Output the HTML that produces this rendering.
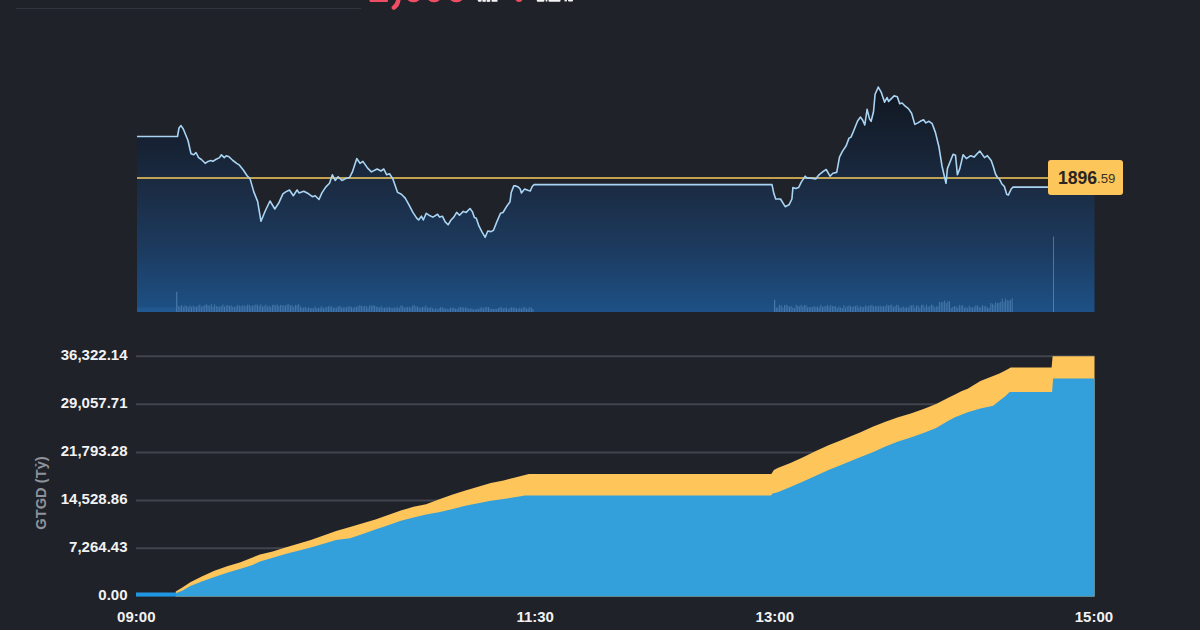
<!DOCTYPE html>
<html><head><meta charset="utf-8"><style>
html,body{margin:0;padding:0;}
body{width:1200px;height:630px;overflow:hidden;background:#20222a;position:relative;font-family:"Liberation Sans",sans-serif;}
svg{position:absolute;left:0;top:0;}
.yl{position:absolute;right:1072.5px;color:#f2f2f2;font-size:15px;line-height:18px;white-space:nowrap;font-weight:bold;}
.xl{position:absolute;top:607.8px;width:60px;text-align:center;color:#f2f2f2;font-size:15px;line-height:18px;font-weight:bold;}
.ytitle{position:absolute;left:40.8px;top:492.8px;transform:translate(-50%,-50%) rotate(-90deg);color:#8e929b;font-size:14.7px;font-weight:bold;line-height:17px;white-space:nowrap;}
.tag{position:absolute;left:1048px;top:160px;width:74.5px;height:34.5px;background:#fcc65a;border-radius:3px;}
.tag span{position:absolute;top:0;line-height:34.5px;color:#2a2520;}
.hdr{position:absolute;font-weight:bold;white-space:nowrap;}
</style></head><body>
<div style="position:absolute;left:16px;top:8px;width:345px;height:1px;background:#32353e"></div>
<svg width="1200" height="630" viewBox="0 0 1200 630">
<defs><linearGradient id="g1" gradientUnits="userSpaceOnUse" x1="0" y1="87" x2="0" y2="312">
<stop offset="0" stop-color="#10161f"/><stop offset="0.458" stop-color="#1b2c44"/><stop offset="0.724" stop-color="#1c3b60"/><stop offset="1" stop-color="#1d5186"/></linearGradient></defs>
<path d="M137,136.5 L177.5,136.5 L179,128 L181,125.6 L183.3,129 L188,140.5 L191,153.8 L193.8,154.8 L196,152.5 L198.6,157.6 L201.4,159.5 L205.2,163.3 L208,161.4 L211,160.5 L212.9,161.4 L215.7,159.5 L219.5,157.6 L221.4,154.8 L224.3,157.6 L226.2,155.7 L229,156.7 L232.9,160.5 L236.7,163.3 L239.5,165.2 L243.3,170 L247.1,175.7 L250,178.6 L253.8,191.9 L257.6,201.4 L261,221.3 L265.2,211 L270,201 L274.8,209 L278.6,203.3 L282.9,193.8 L285.7,191.9 L289.5,190 L293.3,195.7 L297.1,190 L299,192.9 L303.8,191.3 L308.6,193.8 L312.4,196.7 L315.2,195.7 L319,199.5 L321.9,192.9 L325.7,187.1 L329.5,183.3 L332.4,174.8 L335.2,180.5 L338.1,176.7 L341.9,180.5 L345.7,178.6 L349.5,177.6 L352.4,171.9 L356.8,158.6 L360,163.3 L362.9,161.4 L367.6,168.1 L371.4,171.9 L377.1,169 L381,171 L383.8,169 L386.7,174.8 L389.5,173.8 L392.9,179 L397.6,192.4 L401.4,194.3 L405.2,198.1 L409,204.8 L412.9,212.4 L416.7,218.1 L418.6,220 L421.4,216.2 L423.3,220 L426.2,213.3 L429,215.2 L432.9,217.1 L437.6,214.3 L439.5,217.1 L442.4,216.2 L445.2,221.9 L448.1,224.8 L451,220 L453.8,217.1 L456.7,212.4 L459.5,215.2 L463.3,211.4 L466.2,212.4 L470,208.5 L472.5,211.9 L474.4,217.6 L476.3,218.3 L478.9,225.9 L482.1,232.2 L485.2,237.3 L487.8,231 L491,231.6 L493.5,230.3 L496.7,222.1 L500.5,213.2 L503,212.5 L506.8,206.2 L510,201.7 L511.3,192.2 L513.8,185.9 L515.7,185.9 L518.3,187.1 L520.2,189 L521.4,192.9 L524.6,189 L527.8,190.3 L530.3,191 L532.2,186.5 L534.1,184.6 L772,184.6 L773.8,193.3 L775.7,199 L780.5,199 L785.2,206.7 L789,204.8 L791.9,199 L792.9,187.6 L795.7,188.6 L798.6,187.6 L801.4,181.9 L805.2,176.2 L807.1,178.1 L811,178.1 L815.7,179 L818.6,175.2 L823.3,171.4 L826.2,169.5 L830,176.2 L832.9,173.3 L836.7,172.4 L839.5,157.1 L842.4,151.4 L846.2,145.7 L849,138.1 L851,137.1 L853.8,130.5 L857.6,121 L860.5,117.1 L862.4,119.7 L864.8,125 L867.1,109.4 L869.5,118.9 L871.1,121.3 L873.5,111.7 L875.1,94.3 L878.3,87.1 L881.4,92.7 L884.6,102.2 L887,97.5 L888.6,101.4 L894.1,95.9 L897.3,96.7 L899.7,103.8 L902.1,103 L905.2,106.2 L908.4,108.6 L911.6,113.3 L914.8,124.4 L917.9,122.9 L920.3,121.3 L923.5,119.7 L925.9,122.9 L929,121.3 L932.2,123.7 L935.4,132.4 L938.9,146.7 L942,166 L944.5,177 L946,183.3 L947.4,168.6 L953.1,154.3 L955.5,155.2 L957.4,174.8 L959.8,168.6 L963.1,154.8 L966.4,158.6 L970.7,155.7 L974,157.1 L979.8,151 L984.5,157.6 L987.4,155.7 L991.2,160.5 L993.6,167.6 L995.5,174 L997.5,177.5 L999.5,179.2 L1001.9,184 L1004.3,186.3 L1006.7,194.3 L1008.3,195.1 L1011.4,188.7 L1013,187.1 L1048,187.1 L1094.5,187.1 L1094.5,312 L137,312 Z" fill="url(#g1)"/>
<g fill="#ef4d63"><rect x="369.5" y="-2" width="18.5" height="3.9" rx="0.8"/>
<ellipse cx="413.5" cy="-3" rx="7" ry="5.3"/><ellipse cx="434" cy="-3" rx="6.8" ry="5.3"/><ellipse cx="456.3" cy="-3" rx="7" ry="5.3"/>
<ellipse cx="519" cy="-1.5" rx="3.6" ry="3.6"/></g>
<path d="M398.6,-3 Q398.6,4.5 393.8,7.6" stroke="#ef4d63" stroke-width="4.4" stroke-linecap="round" fill="none"/>
<g fill="#f4f4f4"><rect x="477.8" y="-1" width="3.8" height="2.8" rx="1.2"/><rect x="482.4" y="-1" width="3.4" height="2.8"/><rect x="486.6" y="-1" width="3.6" height="2.8"/><rect x="491.6" y="-1" width="5.9" height="2.8" rx="0.6"/>
<rect x="536.8" y="-1" width="7.6" height="2.8" rx="1"/><rect x="545.6" y="-1" width="1.8" height="2.5"/><rect x="548.5" y="-1" width="12" height="2.8" rx="1"/><rect x="564.5" y="-1" width="2.4" height="2.4"/><rect x="568" y="-1" width="5" height="2.6" rx="1"/></g>
<path d="M178.3,312 V306.0 M180.0,312 V306.5 M181.6,312 V305.0 M183.3,312 V306.8 M184.9,312 V305.4 M186.6,312 V305.9 M188.2,312 V306.8 M189.9,312 V305.5 M191.5,312 V306.9 M193.2,312 V305.7 M194.8,312 V306.8 M196.5,312 V306.7 M198.1,312 V305.7 M199.8,312 V304.5 M201.4,312 V306.6 M203.1,312 V306.3 M204.7,312 V305.1 M206.4,312 V304.2 M208.0,312 V305.3 M209.7,312 V305.8 M211.3,312 V304.1 M213.0,312 V306.9 M214.6,312 V304.4 M216.3,312 V306.1 M217.9,312 V306.6 M219.6,312 V306.6 M221.2,312 V306.1 M222.9,312 V304.6 M224.5,312 V306.5 M226.2,312 V305.3 M227.8,312 V305.1 M229.5,312 V305.9 M231.1,312 V305.4 M232.8,312 V306.8 M234.4,312 V306.8 M236.1,312 V306.4 M237.7,312 V305.0 M239.4,312 V305.7 M241.0,312 V306.1 M242.7,312 V305.2 M244.3,312 V305.6 M246.0,312 V306.1 M247.6,312 V304.6 M249.3,312 V304.9 M250.9,312 V306.3 M252.6,312 V305.3 M254.2,312 V305.4 M255.9,312 V304.4 M257.5,312 V304.8 M259.2,312 V306.1 M260.8,312 V304.1 M262.5,312 V306.6 M264.1,312 V305.7 M265.8,312 V304.7 M267.4,312 V306.5 M269.1,312 V305.5 M270.7,312 V306.9 M272.4,312 V305.0 M274.0,312 V304.7 M275.7,312 V305.3 M277.3,312 V304.4 M278.9,312 V306.1 M280.6,312 V304.9 M282.2,312 V305.2 M283.9,312 V305.3 M285.5,312 V305.6 M287.2,312 V304.5 M288.8,312 V304.2 M290.5,312 V305.6 M292.1,312 V305.0 M293.8,312 V306.8 M295.4,312 V304.9 M297.1,312 V305.1 M298.7,312 V304.0 M300.4,312 V306.4 M302.0,312 V307.8 M303.7,312 V307.5 M305.3,312 V306.8 M307.0,312 V308.4 M308.6,312 V307.3 M310.3,312 V308.1 M311.9,312 V308.2 M313.6,312 V308.4 M315.2,312 V306.6 M316.9,312 V308.2 M318.5,312 V307.9 M320.2,312 V307.5 M321.8,312 V306.3 M323.5,312 V308.3 M325.1,312 V307.4 M326.8,312 V307.1 M328.4,312 V306.3 M330.1,312 V306.5 M331.7,312 V306.3 M333.4,312 V307.8 M335.0,312 V307.5 M336.7,312 V307.6 M338.3,312 V306.3 M340.0,312 V306.1 M341.6,312 V307.5 M343.3,312 V307.5 M344.9,312 V307.3 M346.6,312 V307.3 M348.2,312 V306.5 M349.9,312 V306.2 M351.5,312 V307.2 M353.2,312 V308.0 M354.8,312 V306.7 M356.5,312 V306.9 M358.1,312 V306.3 M359.8,312 V305.1 M361.4,312 V305.9 M363.1,312 V306.5 M364.7,312 V306.1 M366.4,312 V306.0 M368.0,312 V307.8 M369.7,312 V305.3 M371.3,312 V305.7 M373.0,312 V305.4 M374.6,312 V305.6 M376.3,312 V306.8 M377.9,312 V306.8 M379.6,312 V307.7 M381.2,312 V306.1 M382.9,312 V307.8 M384.5,312 V307.8 M386.2,312 V307.4 M387.8,312 V307.5 M389.5,312 V307.0 M391.1,312 V307.8 M392.8,312 V308.0 M394.4,312 V307.5 M396.1,312 V307.7 M397.7,312 V306.9 M399.4,312 V307.9 M401.0,312 V305.4 M402.7,312 V306.2 M404.3,312 V307.6 M406.0,312 V307.2 M407.6,312 V307.0 M409.3,312 V306.9 M410.9,312 V307.6 M412.6,312 V305.5 M414.2,312 V305.0 M415.9,312 V306.6 M417.5,312 V306.5 M419.2,312 V307.7 M420.8,312 V307.7 M422.5,312 V307.0 M424.1,312 V307.2 M425.8,312 V305.5 M427.4,312 V307.5 M429.1,312 V307.9 M430.7,312 V307.1 M432.4,312 V308.2 M434.0,312 V309.1 M435.7,312 V308.1 M437.3,312 V309.4 M439.0,312 V308.2 M440.6,312 V307.1 M442.3,312 V307.3 M443.9,312 V307.8 M445.6,312 V308.8 M447.2,312 V308.6 M448.9,312 V309.1 M450.5,312 V307.6 M452.2,312 V308.2 M453.8,312 V307.6 M455.5,312 V308.7 M457.1,312 V308.9 M458.8,312 V307.5 M460.4,312 V307.0 M462.1,312 V307.4 M463.7,312 V307.5 M465.4,312 V307.5 M467.0,312 V307.7 M468.7,312 V308.9 M470.3,312 V308.2 M472.0,312 V308.6 M473.6,312 V309.4 M475.3,312 V309.4 M476.9,312 V308.8 M478.6,312 V308.9 M480.2,312 V307.8 M481.9,312 V307.1 M483.5,312 V308.4 M485.2,312 V307.2 M486.8,312 V307.0 M488.5,312 V307.1 M490.1,312 V308.6 M491.8,312 V308.9 M493.4,312 V308.9 M495.1,312 V309.0 M496.7,312 V309.0 M498.4,312 V307.9 M500.0,312 V307.2 M501.7,312 V307.4 M503.3,312 V308.3 M505.0,312 V307.9 M506.6,312 V307.5 M508.3,312 V309.3 M509.9,312 V307.8 M511.6,312 V307.2 M513.2,312 V307.5 M514.9,312 V307.6 M516.5,312 V308.3 M518.2,312 V309.1 M519.8,312 V307.5 M521.5,312 V308.7 M523.1,312 V307.5 M524.8,312 V307.1 M526.4,312 V308.5 M528.1,312 V308.5 M529.7,312 V307.1 M531.4,312 V307.7 M533.0,312 V309.1 M776.3,312 V307.6 M777.9,312 V307.5 M779.6,312 V304.8 M781.2,312 V305.2 M782.9,312 V307.5 M784.5,312 V305.1 M786.2,312 V304.6 M787.8,312 V305.7 M789.5,312 V306.8 M791.1,312 V306.1 M792.8,312 V307.5 M794.4,312 V308.0 M796.1,312 V304.6 M797.7,312 V305.7 M799.4,312 V306.2 M801.0,312 V304.7 M802.7,312 V306.5 M804.3,312 V304.9 M806.0,312 V305.1 M807.6,312 V307.3 M809.3,312 V307.1 M810.9,312 V307.0 M812.6,312 V307.2 M814.2,312 V305.9 M815.9,312 V307.1 M817.5,312 V306.5 M819.2,312 V307.5 M820.8,312 V304.8 M822.5,312 V306.8 M824.1,312 V306.4 M825.8,312 V306.0 M827.4,312 V304.8 M829.1,312 V306.5 M830.7,312 V304.8 M832.4,312 V306.2 M834.0,312 V306.1 M835.7,312 V306.2 M837.3,312 V307.9 M839.0,312 V306.5 M840.6,312 V307.4 M842.3,312 V308.0 M843.9,312 V305.2 M845.6,312 V307.4 M847.2,312 V306.3 M848.9,312 V305.5 M850.5,312 V306.1 M852.2,312 V306.9 M853.8,312 V306.2 M855.5,312 V306.1 M857.1,312 V305.3 M858.8,312 V307.6 M860.4,312 V306.0 M862.1,312 V307.1 M863.7,312 V307.0 M865.4,312 V305.3 M867.0,312 V306.2 M868.7,312 V306.0 M870.3,312 V305.3 M872.0,312 V304.8 M873.6,312 V306.4 M875.3,312 V305.9 M876.9,312 V306.2 M878.6,312 V306.2 M880.2,312 V305.6 M881.9,312 V306.4 M883.5,312 V306.1 M885.2,312 V306.3 M886.8,312 V304.7 M888.5,312 V305.6 M890.1,312 V304.9 M891.8,312 V304.7 M893.4,312 V307.1 M895.1,312 V306.0 M896.7,312 V304.7 M898.4,312 V305.1 M900.0,312 V307.5 M901.7,312 V307.6 M903.3,312 V306.5 M905.0,312 V307.7 M906.6,312 V307.2 M908.3,312 V307.7 M909.9,312 V305.7 M911.6,312 V305.3 M913.2,312 V304.9 M914.9,312 V307.5 M916.5,312 V305.5 M918.2,312 V305.7 M919.8,312 V307.5 M921.5,312 V304.9 M923.1,312 V304.6 M924.8,312 V307.2 M926.4,312 V304.7 M928.1,312 V306.6 M929.7,312 V306.3 M931.4,312 V304.5 M933.0,312 V305.1 M934.7,312 V307.4 M936.3,312 V306.5 M938.0,312 V306.2 M939.6,312 V301.8 M941.3,312 V302.3 M942.9,312 V301.9 M944.6,312 V300.5 M946.2,312 V302.9 M947.9,312 V301.1 M949.5,312 V301.5 M951.2,312 V307.9 M952.8,312 V307.0 M954.5,312 V306.1 M956.1,312 V306.5 M957.8,312 V307.8 M959.4,312 V305.0 M961.1,312 V305.6 M962.7,312 V305.1 M964.4,312 V307.7 M966.0,312 V307.2 M967.7,312 V307.9 M969.3,312 V305.7 M971.0,312 V307.2 M972.6,312 V307.6 M974.3,312 V306.7 M975.9,312 V305.3 M977.6,312 V305.5 M979.2,312 V307.2 M980.9,312 V307.6 M982.5,312 V305.2 M984.2,312 V306.3 M985.8,312 V305.9 M987.5,312 V307.7 M989.1,312 V307.8 M990.8,312 V302.9 M992.4,312 V303.7 M994.1,312 V304.8 M995.7,312 V302.2 M997.4,312 V303.1 M999.0,312 V302.6 M1000.7,312 V301.7 M1002.3,312 V298.6 M1004.0,312 V301.7 M1005.6,312 V298.5 M1007.3,312 V300.2 M1008.9,312 V300.6 M1010.6,312 V299.8 M1012.2,312 V298.3" stroke="#86b8ee" stroke-width="1" stroke-opacity="0.38" fill="none"/>
<path d="M176.7,312 V291.7 M774.6,312 V299.8" stroke="#86b8ee" stroke-width="1.2" stroke-opacity="0.4"/>
<rect x="137" y="307.5" width="39" height="4.5" fill="#3f7fc8" fill-opacity="0.18"/>
<line x1="1053.5" x2="1053.5" y1="312" y2="236.5" stroke="#86b8ee" stroke-width="1" stroke-opacity="0.45"/>
<line x1="137" x2="1048" y1="178" y2="178" stroke="#f8cc5c" stroke-width="1.3"/>
<path d="M137,136.5 L177.5,136.5 L179,128 L181,125.6 L183.3,129 L188,140.5 L191,153.8 L193.8,154.8 L196,152.5 L198.6,157.6 L201.4,159.5 L205.2,163.3 L208,161.4 L211,160.5 L212.9,161.4 L215.7,159.5 L219.5,157.6 L221.4,154.8 L224.3,157.6 L226.2,155.7 L229,156.7 L232.9,160.5 L236.7,163.3 L239.5,165.2 L243.3,170 L247.1,175.7 L250,178.6 L253.8,191.9 L257.6,201.4 L261,221.3 L265.2,211 L270,201 L274.8,209 L278.6,203.3 L282.9,193.8 L285.7,191.9 L289.5,190 L293.3,195.7 L297.1,190 L299,192.9 L303.8,191.3 L308.6,193.8 L312.4,196.7 L315.2,195.7 L319,199.5 L321.9,192.9 L325.7,187.1 L329.5,183.3 L332.4,174.8 L335.2,180.5 L338.1,176.7 L341.9,180.5 L345.7,178.6 L349.5,177.6 L352.4,171.9 L356.8,158.6 L360,163.3 L362.9,161.4 L367.6,168.1 L371.4,171.9 L377.1,169 L381,171 L383.8,169 L386.7,174.8 L389.5,173.8 L392.9,179 L397.6,192.4 L401.4,194.3 L405.2,198.1 L409,204.8 L412.9,212.4 L416.7,218.1 L418.6,220 L421.4,216.2 L423.3,220 L426.2,213.3 L429,215.2 L432.9,217.1 L437.6,214.3 L439.5,217.1 L442.4,216.2 L445.2,221.9 L448.1,224.8 L451,220 L453.8,217.1 L456.7,212.4 L459.5,215.2 L463.3,211.4 L466.2,212.4 L470,208.5 L472.5,211.9 L474.4,217.6 L476.3,218.3 L478.9,225.9 L482.1,232.2 L485.2,237.3 L487.8,231 L491,231.6 L493.5,230.3 L496.7,222.1 L500.5,213.2 L503,212.5 L506.8,206.2 L510,201.7 L511.3,192.2 L513.8,185.9 L515.7,185.9 L518.3,187.1 L520.2,189 L521.4,192.9 L524.6,189 L527.8,190.3 L530.3,191 L532.2,186.5 L534.1,184.6 L772,184.6 L773.8,193.3 L775.7,199 L780.5,199 L785.2,206.7 L789,204.8 L791.9,199 L792.9,187.6 L795.7,188.6 L798.6,187.6 L801.4,181.9 L805.2,176.2 L807.1,178.1 L811,178.1 L815.7,179 L818.6,175.2 L823.3,171.4 L826.2,169.5 L830,176.2 L832.9,173.3 L836.7,172.4 L839.5,157.1 L842.4,151.4 L846.2,145.7 L849,138.1 L851,137.1 L853.8,130.5 L857.6,121 L860.5,117.1 L862.4,119.7 L864.8,125 L867.1,109.4 L869.5,118.9 L871.1,121.3 L873.5,111.7 L875.1,94.3 L878.3,87.1 L881.4,92.7 L884.6,102.2 L887,97.5 L888.6,101.4 L894.1,95.9 L897.3,96.7 L899.7,103.8 L902.1,103 L905.2,106.2 L908.4,108.6 L911.6,113.3 L914.8,124.4 L917.9,122.9 L920.3,121.3 L923.5,119.7 L925.9,122.9 L929,121.3 L932.2,123.7 L935.4,132.4 L938.9,146.7 L942,166 L944.5,177 L946,183.3 L947.4,168.6 L953.1,154.3 L955.5,155.2 L957.4,174.8 L959.8,168.6 L963.1,154.8 L966.4,158.6 L970.7,155.7 L974,157.1 L979.8,151 L984.5,157.6 L987.4,155.7 L991.2,160.5 L993.6,167.6 L995.5,174 L997.5,177.5 L999.5,179.2 L1001.9,184 L1004.3,186.3 L1006.7,194.3 L1008.3,195.1 L1011.4,188.7 L1013,187.1 L1048,187.1" fill="none" stroke="#a9d4f4" stroke-width="1.6" stroke-linejoin="round"/>
<g stroke="#41444c" stroke-width="2"><line x1="136" x2="1094.5" y1="356.3" y2="356.3"/><line x1="136" x2="1094.5" y1="404.3" y2="404.3"/><line x1="136" x2="1094.5" y1="452.5" y2="452.5"/><line x1="136" x2="1094.5" y1="500.4" y2="500.4"/><line x1="136" x2="1094.5" y1="548.3" y2="548.3"/></g>
<path d="M175.7,591.6 L182.7,587.3 L190.3,582.2 L201.7,576.5 L214.4,570.8 L227.1,566.3 L239.8,562.5 L252.5,557.4 L260,554.6 L272.7,551.4 L285.4,547.6 L298.1,543.8 L310.8,540 L323.5,535.5 L336.1,531.1 L350,527.1 L362.7,523.3 L375.4,519.5 L388.1,515.1 L400.8,510.6 L413.5,506.8 L426.1,504.3 L440,499 L452.7,494.4 L465.4,490.6 L478.1,486.8 L490.8,483 L503.5,480.5 L516.1,477.3 L528.8,474.1 L532.6,473.9 L771.3,473.9 L773.9,470 L777.7,468.1 L790.4,463 L803.1,457.3 L815.8,450.9 L828.5,445.2 L841.1,440.2 L853.8,435.1 L860,432.4 L872.7,426.8 L885.4,421.7 L898.1,417.3 L910.8,413.5 L923.5,409 L936.1,404 L948.8,397.6 L955,394.5 L961.3,391.2 L967.7,388.7 L980.4,381.1 L993.1,376 L999.4,373.5 L1005.8,370.3 L1010.8,367.4 L1051.6,367.4 L1052.6,356.2 L1094.5,356.2 L1094.5,596.6 L175.7,596.6 Z" fill="#fdc55a"/>
<path d="M175.7,593.2 L182.7,590.4 L190.3,586 L201.7,581.5 L214.4,577.1 L227.1,572.7 L239.8,568.9 L252.5,565 L260,561.5 L272.7,557.7 L285.4,553.9 L298.1,550.8 L310.8,547.6 L323.5,543.8 L336.1,540 L350,538.3 L362.7,534.1 L375.4,529.6 L388.1,525.2 L400.8,520.8 L413.5,517.6 L426.1,514.4 L440,512 L452.7,509 L465.4,505.8 L478.1,503.3 L490.8,500.8 L503.5,498.9 L516.1,497 L525,495.4 L771,495.4 L772.6,493.5 L777.7,492.2 L790.4,487.1 L803.1,481.4 L815.8,475.7 L828.5,470 L841.1,464.9 L853.8,459.8 L860,457.3 L872.7,452.2 L885.4,446.5 L898.1,441.4 L910.8,437.6 L923.5,433.1 L936.1,428.1 L948.8,420.5 L955,417.3 L967.7,412.2 L980.4,408.4 L993.1,405.8 L999.4,400.8 L1005.8,395.7 L1009.6,392 L1052.1,392 L1053.1,378.6 L1094.5,378.6 L1094.5,596.6 L175.7,596.6 Z" fill="#33a0dc"/>
<rect x="136" y="592.5" width="40" height="4.1" fill="#2196e0"/>
</svg>
<div class="tag"><span style="left:10px;font-size:17.6px;font-weight:bold;top:0.8px">1896</span><span style="left:49px;font-size:13.2px;top:2.3px;color:#3a3326">.59</span></div>
<div class="yl" style="top:346px">36,322.14</div><div class="yl" style="top:394px">29,057.71</div><div class="yl" style="top:442px">21,793.28</div><div class="yl" style="top:490px">14,528.86</div><div class="yl" style="top:538px">7,264.43</div><div class="yl" style="top:586px">0.00</div>
<div class="xl" style="left:106.3px">09:00</div><div class="xl" style="left:505.2px">11:30</div><div class="xl" style="left:744.8px">13:00</div><div class="xl" style="left:1063.9px">15:00</div>
<div class="ytitle">GTGD (Tỷ)</div>
</body></html>
